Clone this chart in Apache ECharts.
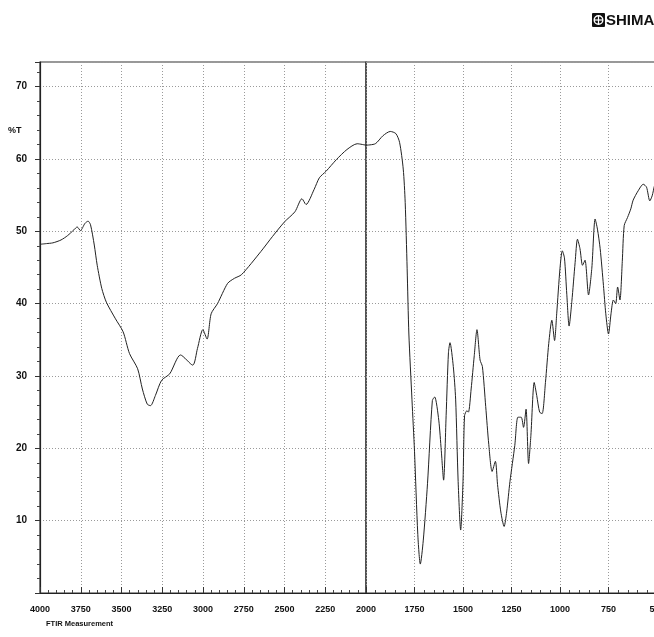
<!DOCTYPE html>
<html>
<head>
<meta charset="utf-8">
<script src="https://cdn.jsdelivr.net/npm/echarts@6/dist/echarts.min.js"></script>
<style>
html,body{margin:0;padding:0;background:#fff;}
#c{width:654px;height:637px;}
</style>
</head>
<body>
<div id="c"></div>
<script>
// Wavenumber (cm-1) and transmittance (%T)
var wavenumbers = [4000, 3960, 3921, 3871, 3831, 3792, 3772, 3752, 3724, 3705, 3690, 3667, 3649, 3621, 3593, 3537, 3490, 3451, 3401, 3372, 3342, 3322, 3292, 3254, 3204, 3138, 3063, 3034, 3001, 2975, 2950, 2911, 2849, 2807, 2764, 2645, 2573, 2500, 2436, 2393, 2368, 2318, 2286, 2245, 2182, 2117, 2054, 2000, 1952, 1913, 1875, 1846, 1827, 1808, 1798, 1788, 1779, 1763, 1750, 1733, 1720, 1705, 1683, 1658, 1646, 1625, 1612, 1600, 1587, 1575, 1567, 1550, 1538, 1525, 1512, 1500, 1492, 1480, 1472, 1458, 1442, 1428, 1412, 1400, 1383, 1367, 1350, 1333, 1322, 1305, 1288, 1275, 1258, 1233, 1217, 1200, 1188, 1175, 1162, 1150, 1133, 1120, 1105, 1092, 1075, 1058, 1042, 1028, 1017, 1000, 988, 977, 965, 953, 939, 922, 910, 897, 884, 871, 853, 836, 819, 807, 793, 776, 764, 750, 737, 725, 713, 703, 691, 679, 669, 652, 635, 623, 597, 571, 554, 537, 525, 513, 505];
var transmittance = [48.2, 48.3, 48.4, 48.8, 49.4, 50.2, 50.6, 50.1, 51.1, 51.4, 50.9, 48.1, 45.3, 42.1, 40.2, 37.9, 36.1, 33.1, 31.0, 28.2, 26.1, 25.9, 27.3, 29.4, 30.3, 32.9, 31.5, 33.8, 36.4, 35.1, 38.6, 40.0, 42.8, 43.5, 44.0, 47.2, 49.3, 51.3, 52.7, 54.5, 53.7, 55.8, 57.4, 58.3, 59.9, 61.3, 62.1, 61.9, 62.1, 63.2, 63.8, 63.5, 62.3, 58.6, 54.0, 44.9, 35.8, 26.7, 19.6, 8.1, 4.0, 7.2, 15.1, 26.6, 27.1, 23.9, 19.7, 15.6, 24.5, 33.2, 34.6, 31.3, 26.8, 15.4, 8.7, 15.4, 24.5, 25.2, 25.0, 28.2, 32.8, 36.4, 32.2, 31.3, 25.8, 20.5, 16.8, 18.2, 15.0, 11.2, 9.2, 11.2, 15.4, 20.4, 24.3, 24.3, 22.9, 25.4, 17.9, 21.8, 29.1, 27.3, 25.0, 24.8, 29.1, 34.5, 37.7, 34.9, 38.6, 44.9, 47.3, 46.3, 41.3, 36.9, 40.3, 45.7, 48.9, 47.6, 45.3, 46.0, 41.2, 44.9, 51.7, 50.3, 47.6, 42.5, 38.6, 35.8, 38.6, 40.5, 40.0, 42.3, 40.5, 45.8, 50.8, 51.9, 53.1, 54.3, 55.6, 56.5, 56.1, 54.2, 54.9, 56.3, 56.8];

// Tick labels
var xTickLabelsHigh = [4000, 3750, 3500, 3250, 3000, 2750, 2500, 2250, 2000];
var xTickLabelsLow = [1750, 1500, 1250, 1000, 750, 500];
var yTickLabels = [10, 20, 30, 40, 50, 60, 70];

var highPts = [], lowPts = [];
for (var i = 0; i < wavenumbers.length; i++) {
  var p = [wavenumbers[i], transmittance[i]];
  if (wavenumbers[i] >= 2000) highPts.push(p);
  if (wavenumbers[i] <= 2000) lowPts.push(p);
}

var FONT = '"Liberation Sans", Arial, sans-serif';
var splitLineStyle = { show: true, lineStyle: { color: '#9a9a9a', type: [1, 2], width: 1 } };

var chart = echarts.init(document.getElementById('c'), null, { renderer: 'canvas' });
chart.setOption({
  backgroundColor: '#ffffff',
  animation: false,
  grid: [
    { left: 40, right: 288, top: 62, bottom: 44, outerBoundsMode: 'none', containLabel: false, show: true, borderColor: '#333', borderWidth: 1.2, backgroundColor: 'transparent' },
    { left: 366, right: -3, top: 62, bottom: 44, outerBoundsMode: 'none', containLabel: false, show: true, borderColor: '#333', borderWidth: 1.2, backgroundColor: 'transparent' }
  ],
  xAxis: [
    {
      type: 'value', gridIndex: 0, min: 2000, max: 4000, interval: 250, inverse: true,
      axisLine: { show: true, lineStyle: { color: '#222', width: 1 } },
      axisTick: { show: true, inside: true, length: 6, lineStyle: { color: '#333' } },
      minorTick: { show: true, splitNumber: 5, length: 3, lineStyle: { color: '#444' } },
      splitLine: splitLineStyle,
      axisLabel: {
        margin: 12, color: '#111', fontFamily: FONT, fontWeight: 'bold', fontSize: 9,
        formatter: function (v) { return xTickLabelsHigh.indexOf(v) >= 0 ? String(v) : ''; }
      }
    },
    {
      type: 'value', gridIndex: 1, min: 500, max: 2000, interval: 250, inverse: true,
      axisLine: { show: true, lineStyle: { color: '#222', width: 1 } },
      axisTick: { show: true, inside: true, length: 6, lineStyle: { color: '#333' } },
      minorTick: { show: true, splitNumber: 5, length: 3, lineStyle: { color: '#444' } },
      splitLine: splitLineStyle,
      axisLabel: {
        margin: 12, color: '#111', fontFamily: FONT, fontWeight: 'bold', fontSize: 9,
        formatter: function (v) { return xTickLabelsLow.indexOf(v) >= 0 ? String(v) : ''; }
      }
    }
  ],
  yAxis: [
    {
      type: 'value', gridIndex: 0, min: 0, max: 73.4, interval: 10,
      axisLine: { show: true, lineStyle: { color: '#222', width: 1.2 } },
      axisTick: { show: true, inside: false, length: 5, lineStyle: { color: '#333' } },
      minorTick: { show: true, splitNumber: 5, length: 3, lineStyle: { color: '#444' } },
      splitLine: splitLineStyle,
      axisLabel: {
        margin: 13, color: '#111', fontFamily: FONT, fontWeight: 'bold', fontSize: 10,
        formatter: function (v) { return yTickLabels.indexOf(v) >= 0 ? String(v) : ''; }
      }
    },
    {
      type: 'value', gridIndex: 1, min: 0, max: 73.4, interval: 10,
      axisLine: { show: false }, axisTick: { show: false }, axisLabel: { show: false },
      splitLine: splitLineStyle
    }
  ],
  graphic: [
    { type: 'text', left: 8, top: 126, style: { text: '%T', fill: '#111', font: 'bold 9px ' + FONT } },
    { type: 'text', left: 46, top: 620, style: { text: 'FTIR Measurement', fill: '#111', font: 'bold 7.5px ' + FONT } },
    { type: 'rect', shape: { x: 592, y: 13, width: 13, height: 14, r: 1 }, style: { fill: '#111' } },
    { type: 'circle', shape: { cx: 598.5, cy: 20, r: 4.3 }, style: { fill: 'none', stroke: '#fff', lineWidth: 1.4 } },
    { type: 'line', shape: { x1: 598.5, y1: 15.7, x2: 598.5, y2: 24.3 }, style: { stroke: '#fff', lineWidth: 1.2 } },
    { type: 'line', shape: { x1: 594.2, y1: 20, x2: 602.8, y2: 20 }, style: { stroke: '#fff', lineWidth: 1.2 } },
    { type: 'text', left: 606, top: 13, style: { text: 'SHIMADZU', fill: '#111', font: 'bold 15px ' + FONT } }
  ],
  series: [
    {
      type: 'line', xAxisIndex: 0, yAxisIndex: 0, data: highPts, showSymbol: false, smooth: 0.25,
      lineStyle: { color: '#222', width: 1 }
    },
    {
      type: 'line', xAxisIndex: 1, yAxisIndex: 1, data: lowPts, showSymbol: false, smooth: 0.25,
      lineStyle: { color: '#222', width: 1 }
    }
  ]
});
</script>
</body>
</html>
